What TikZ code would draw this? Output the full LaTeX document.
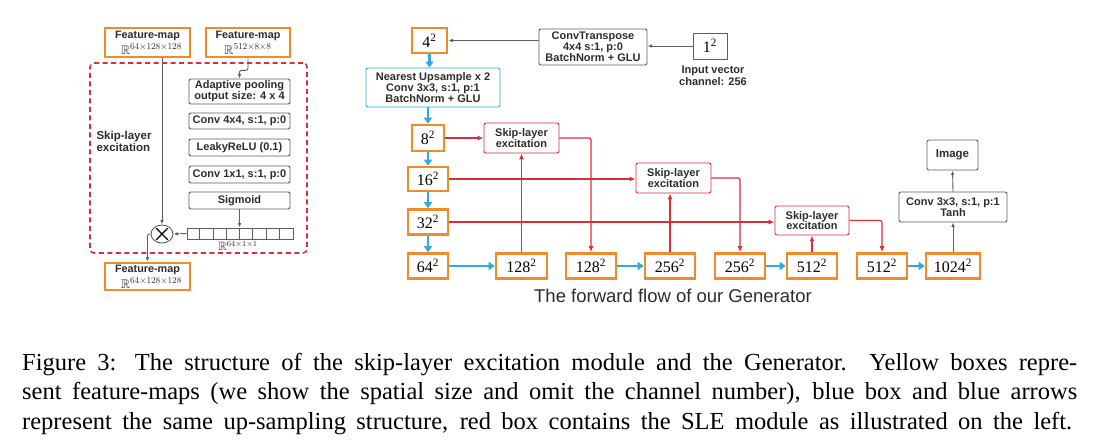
\documentclass[tikz,border=0pt]{standalone}
\usepackage{amsmath,amssymb}
\usepackage{fontspec}
\usetikzlibrary{arrows.meta,calc,shapes.geometric}
\newfontfamily\labfont{Liberation Sans}
\newfontfamily\serfont{Liberation Serif}
\definecolor{orng}{RGB}{240,140,40}
\definecolor{redc}{RGB}{215,45,60}
\definecolor{bluec}{RGB}{50,170,225}
\definecolor{grayc}{RGB}{95,95,95}
\definecolor{txtc}{RGB}{45,45,45}
\newcommand\sqnum[1]{#1\textsuperscript{2}}
\begin{document}
\begin{tikzpicture}[x=1pt,y=-1pt,
  fmap/.style={draw=orng, line width=2.6pt, fill=white, inner sep=0pt, align=center,
    font=\serfont\fontsize{16}{16}\selectfont},
  fmapL/.style={fmap, text=txtc, font=\labfont\bfseries\fontsize{10.8}{12.5}\selectfont},
  gbox/.style={draw=grayc, line width=0.9pt, rounded corners=2pt, fill=white, inner sep=0pt,
    align=center, text=txtc, font=\labfont\bfseries\fontsize{11}{10.8}\selectfont},
  slebox/.style={gbox, draw=redc},
  upbox/.style={gbox, draw=bluec},
  sqbox/.style={draw=grayc, line width=1pt, fill=white, inner sep=0pt,
    font=\serfont\fontsize{16}{16}\selectfont},
  barr/.style={draw=bluec, line width=2.4pt, -{Triangle[length=6pt,width=8pt]}},
  rarr/.style={draw=redc, line width=1.2pt, -{Latex[length=6pt,width=5pt]}, rounded corners=2pt},
  garr/.style={draw=grayc, line width=0.9pt, -{Latex[length=4.5pt,width=3.5pt]}, rounded corners=2pt}
]
\useasboundingbox (0,0) rectangle (1114,445);
\fill[white] (0,0) rectangle (1114,445);

% ---------------- left panel ----------------
\node[draw=redc, line width=1.6pt, dash pattern=on 5pt off 3.5pt, rounded corners=4pt,
  minimum width=217pt, minimum height=190pt, inner sep=0pt] (slemod) at (198.5,158) {};
\node[anchor=west, align=left, text=txtc, font=\labfont\bfseries\fontsize{11.5}{12}\selectfont]
  (skiplab) at (93,141) {Skip-layer\\excitation};

\node[fmapL, minimum width=85pt, minimum height=29pt] (fmA) at (147.5,42.5)
  {Feature-map\\[3.5pt]\normalfont\fontsize{12.5}{15}\selectfont\hspace*{8pt}$\mathbb{R}^{64\times128\times128}$};
\node[fmapL, minimum width=84pt, minimum height=29pt] (fmB) at (248,42.5)
  {Feature-map\\[3.5pt]\normalfont\fontsize{12.5}{15}\selectfont$\mathbb{R}^{512\times8\times8}$};
\node[fmapL, minimum width=85pt, minimum height=27pt] (fmC) at (147.5,276.5)
  {Feature-map\\[3.5pt]\normalfont\fontsize{12.5}{15}\selectfont\hspace*{8pt}$\mathbb{R}^{64\times128\times128}$};

\node[gbox, minimum width=101pt, minimum height=25pt] (ada) at (239.5,91.5) {Adaptive pooling\\output size: 4 x 4};
\node[gbox, minimum width=101pt, minimum height=16pt] (c44) at (239.5,121) {Conv 4x4, s:1, p:0};
\node[gbox, minimum width=101pt, minimum height=17pt] (leaky) at (239.5,147.5) {LeakyReLU (0.1)};
\node[gbox, minimum width=101pt, minimum height=17pt] (c11) at (239.5,174.5) {Conv 1x1, s:1, p:0};
\node[gbox, minimum width=101pt, minimum height=17pt] (sig) at (239.5,200.5) {Sigmoid};

\node[draw=grayc, line width=0.8pt, fill=white, minimum width=106pt, minimum height=11pt, inner sep=0pt] (vec) at (240,233.5) {};
\foreach \i in {1,...,7}
  \draw[grayc, line width=0.8pt] ($(vec.north west)+(\i*13.25,0)$) -- ($(vec.south west)+(\i*13.25,0)$);
\node[font=\fontsize{12}{12}\selectfont, text=txtc] (veclab) at (238,246) {$\mathbb{R}^{64\times1\times1}$};

\node[ellipse, draw=grayc, line width=0.9pt, fill=white, minimum width=22pt, minimum height=18pt, inner sep=0pt] (mult) at (162,234) {};
\draw[black, line width=1.1pt] ($(mult.center)!0.8!(mult.45)$) -- ($(mult.center)!0.8!(mult.225)$)
  ($(mult.center)!0.8!(mult.135)$) -- ($(mult.center)!0.8!(mult.315)$);

\draw[garr] (fmA.south -| mult.north) -- (mult.north);
\draw[garr] (fmB.south) -- ++(0,12) -| (ada.north);
\draw[garr] (sig.south) -- (sig.south |- vec.north);
\draw[garr] (vec.west) -- (mult.east);
\draw[garr] (mult.west) -| (fmC.north);

% ---------------- right panel ----------------
\node[fmap, minimum width=35pt, minimum height=25pt] (n4) at (429.5,40.5) {\sqnum{4}};
\node[gbox, minimum width=108pt, minimum height=36pt] (convT) at (593,47) {ConvTranspose\\4x4 s:1, p:0\\BatchNorm + GLU};
\node[sqbox, minimum width=34pt, minimum height=26pt] (n1) at (710,46) {\sqnum{1}};
\node[align=center, text=txtc, font=\labfont\bfseries\fontsize{11}{11.5}\selectfont] (inlab) at (713,76) {Input vector\\channel: 256};
\node[upbox, minimum width=134pt, minimum height=39pt] (ups) at (433,87.5) {Nearest Upsample x 2\\Conv 3x3, s:1, p:1\\BatchNorm + GLU};

\node[fmap, minimum width=32pt, minimum height=26pt] (n8) at (428,138) {\sqnum{8}};
\node[fmap, minimum width=40pt, minimum height=24pt] (n16) at (428,179) {\sqnum{16}};
\node[fmap, minimum width=40pt, minimum height=25pt] (n32) at (428,222) {\sqnum{32}};
\node[fmap, minimum width=40pt, minimum height=25pt] (n64) at (428,266) {\sqnum{64}};

\node[fmap, minimum width=51pt, minimum height=25pt] (n128a) at (521.5,266) {\sqnum{128}};
\node[fmap, minimum width=50pt, minimum height=25pt] (n128b) at (591,266) {\sqnum{128}};
\node[fmap, minimum width=50pt, minimum height=25pt] (n256a) at (670,266) {\sqnum{256}};
\node[fmap, minimum width=50pt, minimum height=25pt] (n256b) at (740,266) {\sqnum{256}};
\node[fmap, minimum width=50pt, minimum height=25pt] (n512a) at (812,266) {\sqnum{512}};
\node[fmap, minimum width=50pt, minimum height=25pt] (n512b) at (882,266) {\sqnum{512}};
\node[fmap, minimum width=54pt, minimum height=25pt] (n1024) at (953,266) {\sqnum{1024}};

\node[slebox, minimum width=75pt, minimum height=30pt] (sle1) at (521.5,138) {Skip-layer\\excitation};
\node[slebox, minimum width=75pt, minimum height=30pt] (sle2) at (673.5,178) {Skip-layer\\excitation};
\node[slebox, minimum width=74pt, minimum height=29pt] (sle3) at (812,220.5) {Skip-layer\\excitation};

\node[gbox, minimum width=108pt, minimum height=30pt] (conv3) at (953,207) {Conv 3x3, s:1, p:1\\Tanh};
\node[gbox, minimum width=51pt, minimum height=30pt, font=\labfont\bfseries\fontsize{11.5}{12}\selectfont] (img) at (952.5,155) {Image};

\node[text=txtc, font=\labfont\fontsize{18.5}{18.5}\selectfont] (fwd) at (673,296) {The forward flow of our Generator};

% arrows
\draw[garr] (n1.west) -- (n1.west -| convT.east);
\draw[garr] (convT.west |- n4.east) -- (n4.east);
\draw[barr] (n4.south) -- (n4.south |- ups.north);
\draw[barr] (ups.south -| n8.north) -- (n8.north);
\draw[barr] (n8.south) -- (n16.north);
\draw[barr] (n16.south) -- (n32.north);
\draw[barr] (n32.south) -- (n64.north);
\draw[barr] (n64.east) -- (n128a.west);
\draw[barr] (n128b.east) -- (n256a.west);
\draw[barr] (n256b.east) -- (n512a.west);
\draw[barr] (n512b.east) -- (n1024.west);

\draw[rarr] (n8.east) -- (sle1.west);
\draw[rarr] (n128a.north) -- (sle1.south);
\draw[rarr] (sle1.east) -| (n128b.north);
\draw[rarr] (n16.east) -- (n16.east -| sle2.west);
\draw[rarr] (n256a.north) -- (n256a.north |- sle2.south);
\draw[rarr] (sle2.east) -| (n256b.north);
\draw[rarr] (n32.east) -- (n32.east -| sle3.west);
\draw[rarr] (n512a.north) -- (sle3.south);
\draw[rarr] (sle3.east) -| (n512b.north);

\draw[garr] (n1024.north) -- (conv3.south);
\draw[garr] (conv3.north) -- (img.south);

% ---------------- caption ----------------
\begin{scope}[every node/.style={anchor=base west, inner sep=0pt, font=\serfont\fontsize{24.5}{29}\selectfont}]
\node (cap1) at (22,370) {\makebox[1055pt][s]{Figure 3: The structure of the skip-layer excitation module and the Generator.\ \ Yellow boxes repre-}};
\node (cap2) at (22,399.5) {\makebox[1055pt][s]{sent feature-maps (we show the spatial size and omit the channel number), blue box and blue arrows}};
\node (cap3) at (22,429) {\makebox[1050pt][s]{represent the same up-sampling structure, red box contains the SLE module as illustrated on the left.}};
\end{scope}
\end{tikzpicture}
\end{document}
